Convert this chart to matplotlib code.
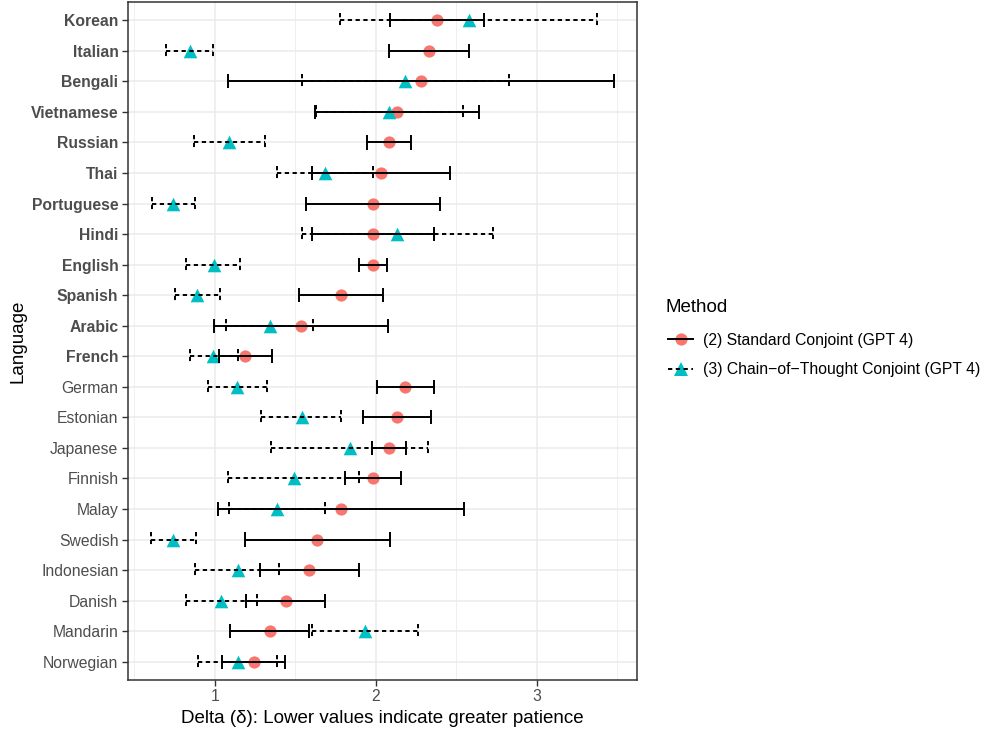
import matplotlib
matplotlib.use("Agg")
import matplotlib.pyplot as plt
from matplotlib.lines import Line2D
from matplotlib.legend_handler import HandlerTuple
import numpy as np

plt.rcParams['font.family'] = ['Liberation Sans', 'DejaVu Sans']

languages = ["Korean", "Italian", "Bengali", "Vietnamese", "Russian", "Thai",
             "Portuguese", "Hindi", "English", "Spanish", "Arabic", "French",
             "German", "Estonian", "Japanese", "Finnish", "Malay", "Swedish",
             "Indonesian", "Danish", "Mandarin", "Norwegian"]
bold_languages = ["Korean", "Italian", "Bengali", "Vietnamese", "Russian", "Thai",
                  "Portuguese", "Hindi", "English", "Spanish", "Arabic", "French"]

std_est = [2.38, 2.33, 2.28, 2.13, 2.08, 2.03, 1.98, 1.98, 1.98, 1.785, 1.535, 1.19,
           2.18, 2.13, 2.08, 1.985, 1.785, 1.636, 1.586, 1.44, 1.34, 1.24]
std_lo = [2.085, 2.08, 1.08, 1.62, 1.945, 1.605, 1.565, 1.605, 1.895, 1.525, 0.995, 1.023,
          2.01, 1.922, 1.977, 1.81, 1.021, 1.186, 1.28, 1.193, 1.093, 1.046]
std_hi = [2.67, 2.58, 3.48, 2.64, 2.22, 2.46, 2.40, 2.36, 2.07, 2.045, 2.075, 1.357,
          2.358, 2.344, 2.186, 2.158, 2.547, 2.087, 1.894, 1.683, 1.586, 1.435]

cot_est = [2.578, 0.843, 2.18, 2.081, 1.089, 1.683, 0.742, 2.133, 0.994, 0.891, 1.342, 0.988,
           1.139, 1.539, 1.837, 1.489, 1.385, 0.742, 1.141, 1.037, 1.934, 1.141]
cot_lo = [1.78, 0.698, 1.539, 1.625, 0.868, 1.385, 0.611, 1.539, 0.822, 0.75, 1.066, 0.843,
          0.957, 1.288, 1.346, 1.079, 1.089, 0.601, 0.878, 0.818, 1.602, 0.897]
cot_hi = [3.373, 0.986, 2.826, 2.539, 1.31, 1.984, 0.874, 2.725, 1.158, 1.034, 1.611, 1.141,
          1.323, 1.785, 2.323, 1.897, 1.686, 0.884, 1.398, 1.261, 2.261, 1.388]

methods = ["(2) Standard Conjoint (GPT 4)", "(3) Chain\u2212of\u2212Thought Conjoint (GPT 4)"]
colors = ["#F8766D", "#00BFC4"]

W, H = 982, 732
fig = plt.figure(figsize=(W / 100, H / 100), dpi=100)
ax = fig.add_axes([127.5 / W, 1 - 680 / H, (637.3 - 127.5) / W, (680 - 2) / H])

y = np.arange(len(languages))
cap = 0.23
lw = 1.4
dash = (0, (2.2, 1.8))

# points first (errorbars drawn on top, as in reference)
ax.scatter(std_est, y, marker='o', s=8.8 ** 2, color=colors[0], zorder=3, linewidths=0)
ax.scatter(cot_est, y, marker='^', s=9.8 ** 2, color=colors[1], zorder=4, linewidths=0)

# standard errorbars (solid)
ax.hlines(y, std_lo, std_hi, color='black', lw=lw, zorder=5)
ax.vlines(std_lo, y - cap, y + cap, color='black', lw=lw, zorder=5)
ax.vlines(std_hi, y - cap, y + cap, color='black', lw=lw, zorder=5)
# CoT errorbars (dashed)
ax.hlines(y, cot_lo, cot_hi, color='black', lw=lw, linestyles=[dash], zorder=5)
ax.vlines(cot_lo, y - cap, y + cap, color='black', lw=lw, linestyles=[dash], zorder=5)
ax.vlines(cot_hi, y - cap, y + cap, color='black', lw=lw, linestyles=[dash], zorder=5)

allv = std_lo + std_hi + cot_lo + cot_hi
lo, hi = min(allv), max(allv)
pad = 0.05 * (hi - lo)
ax.set_xlim(lo - pad, hi + pad)
ax.set_ylim(len(languages) - 1 + 0.6, -0.6)

ax.set_xticks([1, 2, 3])
ax.set_xticks([0.5, 1.5, 2.5, 3.5], minor=True)
ax.set_yticks(y)
ax.set_yticklabels(languages)
for lab in ax.get_yticklabels():
    if lab.get_text() in bold_languages:
        lab.set_fontweight('bold')

ax.grid(True, which='major', color='#EBEBEB', lw=1.1, zorder=0)
ax.grid(True, which='minor', axis='x', color='#EBEBEB', lw=0.55, zorder=0)
ax.set_axisbelow(True)
ax.tick_params(axis='both', which='major', length=4, width=1.0, color='#333333',
               labelcolor='#4D4D4D', labelsize=11.3, pad=2.5)
ax.tick_params(axis='both', which='minor', length=0)
for s in ax.spines.values():
    s.set_color('#333333')
    s.set_linewidth(1.1)

ax.set_xlabel("Delta (\u03b4): Lower values indicate greater patience", fontsize=13.5, labelpad=4)
ax.set_ylabel("Language", fontsize=13.5, labelpad=3)

fig.text(665.5 / W, 1 - 307 / H, "Method", fontsize=13.5, ha='left', va='center')

h1 = (Line2D([], [], marker='o', ms=8.8, color=colors[0], lw=0, markeredgewidth=0),
      Line2D([], [], color='black', lw=lw))
h2 = (Line2D([], [], marker='^', ms=9.8, color=colors[1], lw=0, markeredgewidth=0),
      Line2D([], [], color='black', lw=lw, linestyle=dash))
leg = fig.legend([h1, h2], methods, handler_map={tuple: HandlerTuple(ndivide=1)},
                 loc='center left', bbox_to_anchor=(668 / W, 1 - 355 / H),
                 frameon=False, fontsize=11.3, borderpad=0, borderaxespad=0,
                 handlelength=1.6, handletextpad=0.6, labelspacing=0.9)

fig.savefig("out.png", dpi=100)
